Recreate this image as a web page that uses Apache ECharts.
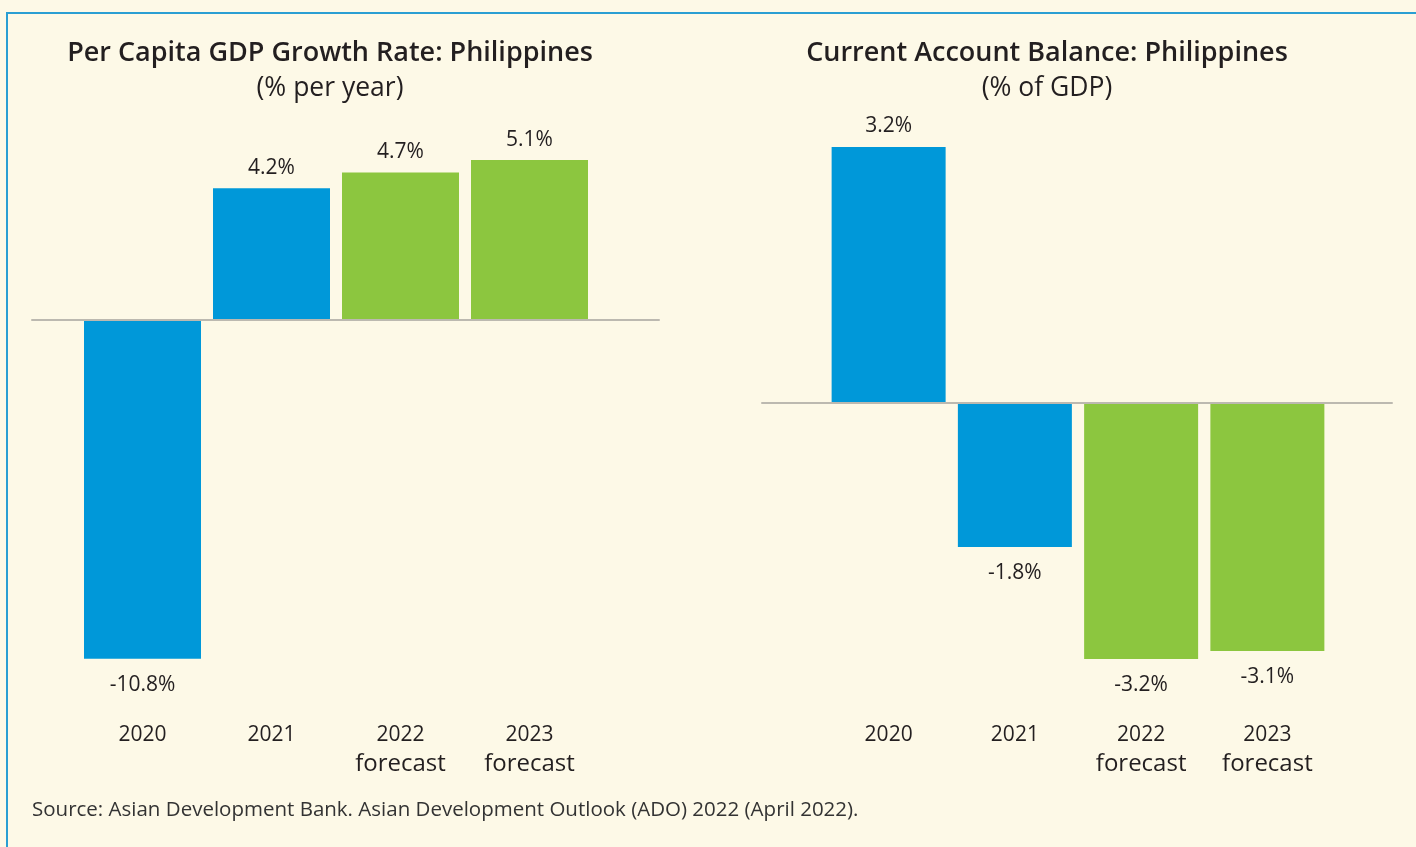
<!DOCTYPE html>
<html>
<head>
<meta charset="utf-8">
<script src="https://cdn.jsdelivr.net/npm/echarts@6/dist/echarts.min.js"></script>
<style>
html,body{margin:0;padding:0;background:#fdf9e7;}
#c{width:1416px;height:847px;}
</style>
</head>
<body>
<div id="c"></div>
<script>
// ---- data ----
const categories = ['2020', '2021', '2022', '2023'];
const isForecast = [false, false, true, true];
const gdpGrowth = [-10.8, 4.2, 4.7, 5.1];
const currentAccount = [3.2, -1.8, -3.2, -3.1];
const leftTitle = 'Per Capita GDP Growth Rate: Philippines';
const leftSub = '(% per year)';
const rightTitle = 'Current Account Balance: Philippines';
const rightSub = '(% of GDP)';
const sourceText = 'Source: Asian Development Bank. Asian Development Outlook (ADO) 2022 (April 2022).';

// ---- style ----
const BLUE = '#0098d9';
const GREEN = '#8cc63f';
const TXT = '#231f20';
const FONT = '"Open Sans", sans-serif';

const chart = echarts.init(document.getElementById('c'), null, {renderer: 'canvas'});

const GRID_TOP = 100, GRID_BOTTOM_Y = 696.5, GRID_H = GRID_BOTTOM_Y - GRID_TOP;
const L = {zero: 320, ppu: 31.36};
const R = {zero: 403, ppu: 80};
function ext(s) {
  return {max: (s.zero - GRID_TOP) / s.ppu, min: -(GRID_BOTTOM_Y - s.zero) / s.ppu};
}
const le = ext(L), re = ext(R);

function barData(vals) {
  return vals.map((v, i) => ({
    value: v,
    itemStyle: {color: isForecast[i] ? GREEN : BLUE},
    label: {position: v < 0 ? 'bottom' : 'top', distance: v < 0 ? 16 : 10}
  }));
}
function catFormatter(v, i) {
  return isForecast[i] ? '{y|' + v + '}\n{f|forecast}' : '{y|' + v + '}';
}
const catLabel = {
  margin: 26,
  formatter: catFormatter,
  rich: {
    y: {fontSize: 21, fontFamily: FONT, color: TXT, lineHeight: 26},
    f: {fontSize: 24, fontFamily: FONT, color: TXT, lineHeight: 32}
  },
  verticalAlign: 'top'
};
const valLabel = {
  show: true,
  fontSize: 21,
  fontFamily: FONT,
  color: TXT,
  formatter: p => p.value.toFixed(1) + '%'
};

const option = {
  backgroundColor: '#fdf9e7',
  animation: false,
  title: [
    {text: leftTitle, left: 330, top: 40, padding: 0, textAlign: 'center',
     textStyle: {fontSize: 27, fontWeight: 600, fontFamily: FONT, color: TXT}},
    {text: leftSub, left: 330, top: 75, padding: 0, textAlign: 'center',
     textStyle: {fontSize: 26.5, fontWeight: 'normal', fontFamily: FONT, color: TXT}},
    {text: rightTitle, left: 1047, top: 40, padding: 0, textAlign: 'center',
     textStyle: {fontSize: 27, fontWeight: 600, fontFamily: FONT, color: TXT}},
    {text: rightSub, left: 1047, top: 75, padding: 0, textAlign: 'center',
     textStyle: {fontSize: 26.5, fontWeight: 'normal', fontFamily: FONT, color: TXT}},
    {text: sourceText, left: 32, top: 800, padding: 0,
     textStyle: {fontSize: 20.5, fontWeight: 'normal', fontFamily: FONT, color: '#333'}}
  ],
  graphic: [
    {type: 'line', shape: {x1: 7, y1: 13, x2: 7, y2: 847}, style: {stroke: '#2a9fd3', lineWidth: 2}},
    {type: 'line', shape: {x1: 6, y1: 13, x2: 1416, y2: 13}, style: {stroke: '#2a9fd3', lineWidth: 2}}
  ],
  grid: [
    {left: 78, width: 516, top: GRID_TOP, height: GRID_H},
    {left: 32, width: 627, top: GRID_TOP, height: GRID_H},
    {left: 825.5, width: 505, top: GRID_TOP, height: GRID_H},
    {left: 762, width: 630, top: GRID_TOP, height: GRID_H}
  ],
  xAxis: [
    {gridIndex: 0, type: 'category', data: categories, position: 'bottom',
     axisLine: {show: false}, axisTick: {show: false}, axisLabel: catLabel},
    {gridIndex: 1, type: 'category', data: [''], axisLine: {show: true, onZero: true, lineStyle: {color: '#bcb9b0', width: 2}},
     axisTick: {show: false}, axisLabel: {show: false}, z: 10},
    {gridIndex: 2, type: 'category', data: categories, position: 'bottom',
     axisLine: {show: false}, axisTick: {show: false}, axisLabel: catLabel},
    {gridIndex: 3, type: 'category', data: [''], axisLine: {show: true, onZero: true, lineStyle: {color: '#bcb9b0', width: 2}},
     axisTick: {show: false}, axisLabel: {show: false}, z: 10}
  ],
  yAxis: [
    {gridIndex: 0, type: 'value', min: le.min, max: le.max, show: false},
    {gridIndex: 1, type: 'value', min: le.min, max: le.max, show: false},
    {gridIndex: 2, type: 'value', min: re.min, max: re.max, show: false},
    {gridIndex: 3, type: 'value', min: re.min, max: re.max, show: false}
  ],
  series: [
    {type: 'bar', xAxisIndex: 0, yAxisIndex: 0, barWidth: 117, data: barData(gdpGrowth), label: valLabel},
    {type: 'bar', xAxisIndex: 1, yAxisIndex: 1, data: []},
    {type: 'bar', xAxisIndex: 2, yAxisIndex: 2, barWidth: 114, data: barData(currentAccount), label: valLabel},
    {type: 'bar', xAxisIndex: 3, yAxisIndex: 3, data: []}
  ]
};
chart.setOption(option);
</script>
</body>
</html>
